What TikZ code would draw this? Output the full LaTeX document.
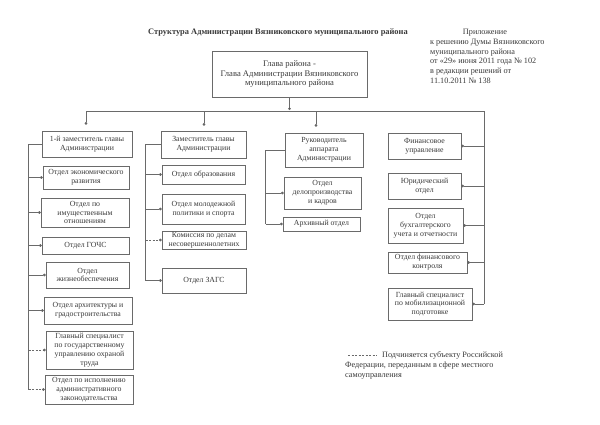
\documentclass[tikz,border=0pt]{standalone}
\usepackage{fontspec}
\setmainfont{Liberation Serif}
\usetikzlibrary{arrows.meta}
\definecolor{ink}{HTML}{3A3A3A}
\definecolor{edge}{HTML}{6A6A6A}
\tikzset{
  box/.style={draw=edge, line width=0.6pt, align=center, inner sep=0.5pt, text=ink,
              font=\fontsize{7.8}{8.8}\selectfont},
  ln/.style={draw=edge, line width=0.6pt},
  arr/.style={draw=edge, line width=0.6pt, -{Circle[length=2.6pt,width=2.6pt,fill=ink]}},
  darr/.style={arr, dash pattern=on 2pt off 1.5pt},
  txt/.style={text=ink, inner sep=0pt, font=\fontsize{8.2}{9.5}\selectfont}
}
\begin{document}
\begin{tikzpicture}[x=1pt,y=-1pt]
\useasboundingbox[fill=white] (0,0) rectangle (600,424);
% title
\node[txt, font=\bfseries\fontsize{8.4}{9}\selectfont] (title) at (278,33) {Структура Администрации Вязниковского муниципального района};
% appendix note
\node[txt] (app0) at (485,33) {Приложение};
\node[txt, anchor=west] (app1) at (430,43) {к решению Думы Вязниковского};
\node[txt, anchor=west] (app2) at (430,52.5) {муниципального района};
\node[txt, anchor=west] (app3) at (430,62) {от «29» июня 2011 года № 102};
\node[txt, anchor=west] (app4) at (430,71.5) {в редакции решений от};
\node[txt, anchor=west] (app5) at (430,81) {11.10.2011 № 138};
% head
\node[box, minimum width=155, minimum height=46, font=\fontsize{8.6}{9.8}\selectfont] (top) at (289.5,74)
  {Глава района -\\Глава Администрации Вязниковского\\муниципального района};
% column 1
\node[box, minimum width=90, minimum height=26] (c1a) at (87,144) {1-й заместитель главы\\Администрации};
\node[box, minimum width=86, minimum height=23] (c1b) at (86,177.5) {Отдел экономического\\развития};
\node[box, minimum width=88, minimum height=29] (c1c) at (85,212.5) {Отдел по\\имущественным\\отношениям};
\node[box, minimum width=87, minimum height=17] (c1d) at (85.5,245.5) {Отдел ГОЧС};
\node[box, minimum width=83, minimum height=26] (c1e) at (87.5,275) {Отдел\\жизнеобеспечения};
\node[box, minimum width=88, minimum height=27] (c1f) at (88,310.5) {Отдел архитектуры и\\градостроительства};
\node[box, minimum width=87, minimum height=38] (c1g) at (89.5,350) {Главный специалист\\по государственному\\управлению охраной\\труда};
\node[box, minimum width=88, minimum height=29] (c1h) at (89,389.5) {Отдел по исполнению\\административного\\законодательства};
% column 2
\node[box, minimum width=85, minimum height=27] (c2a) at (203.5,144.5) {Заместитель главы\\Администрации};
\node[box, minimum width=83, minimum height=19] (c2b) at (203.5,174.5) {Отдел образования};
\node[box, minimum width=83, minimum height=30] (c2c) at (203.5,209) {Отдел молодежной\\политики и спорта};
\node[box, minimum width=84, minimum height=18] (c2d) at (204,240) {Комиссия по делам\\несовершеннолетних};
\node[box, minimum width=84, minimum height=25] (c2e) at (204,280.5) {Отдел ЗАГС};
% column 3
\node[box, minimum width=78, minimum height=34] (c3a) at (324,150) {Руководитель\\аппарата\\Администрации};
\node[box, minimum width=77, minimum height=32] (c3b) at (322.5,193) {Отдел\\делопроизводства\\и кадров};
\node[box, minimum width=77, minimum height=14] (c3c) at (321.5,224) {Архивный отдел};
% column 4
\node[box, minimum width=73, minimum height=26] (c4a) at (424.5,146) {Финансовое\\управление};
\node[box, minimum width=73, minimum height=26] (c4b) at (424.5,186) {Юридический\\отдел};
\node[box, minimum width=75, minimum height=35] (c4c) at (425.5,225.5) {Отдел\\бухгалтерского\\учета и отчетности};
\node[box, minimum width=79, minimum height=21] (c4d) at (427.5,262.5) {Отдел финансового\\контроля};
\node[box, minimum width=84, minimum height=32] (c4e) at (430,304) {Главный специалист\\по мобилизационной\\подготовке};
% bus
\coordinate (barL) at (86,111);
\coordinate (barR) at (484,111);
\coordinate (d2) at (204,111);
\coordinate (d3) at (316,111);
\draw[ln] (barL) -- (barR);
\draw[arr, shorten >=1pt] (top.south) -- (top.south |- barL);
\draw[arr, shorten >=6pt] (barL) -- (barL |- c1a.north);
\draw[arr, shorten >=5pt] (d2) -- (d2 |- c2a.north);
\draw[arr, shorten >=6pt] (d3) -- (d3 |- c3a.north);
% column 1 links
\draw[ln] (c1a.west) -- ++(-13,0) coordinate (v1) -- (v1 |- c1h.west);
\foreach \n in {b,c,d,e,f} \draw[arr] (v1 |- c1\n.west) -- (c1\n.west);
\draw[darr] (v1 |- c1g.west) -- (c1g.west);
\draw[darr] (v1 |- c1h.west) -- (c1h.west);
% column 2 links
\draw[ln] (c2a.west) -- ++(-15,0) coordinate (v2) -- (v2 |- c2e.west);
\foreach \n in {b,c,e} \draw[arr] (v2 |- c2\n.west) -- (c2\n.west);
\draw[darr] (v2 |- c2d.west) -- (c2d.west);
% column 3 links
\draw[ln] (c3a.west) -- ++(-19,0) coordinate (v3) -- (v3 |- c3c.west);
\foreach \n in {b,c} \draw[arr] (v3 |- c3\n.west) -- (c3\n.west);
% column 4 links
\draw[ln] (barR) -- (barR |- c4e.east);
\foreach \n in {a,b,c,d,e} \draw[arr] (barR |- c4\n.east) -- (c4\n.east);
% legend
\coordinate (lg1) at (348,355);
\coordinate (lg2) at (377,355);
\draw[ln, dash pattern=on 2pt off 1.5pt] (lg1) -- (lg2);
\node[txt, anchor=west] (lgt1) at (382,355) {Подчиняется субъекту Российской};
\node[txt, anchor=west] (lgt2) at (345,365.5) {Федерации, переданным в сфере местного};
\node[txt, anchor=west] (lgt3) at (345,376) {самоуправления};
\end{tikzpicture}
\end{document}
